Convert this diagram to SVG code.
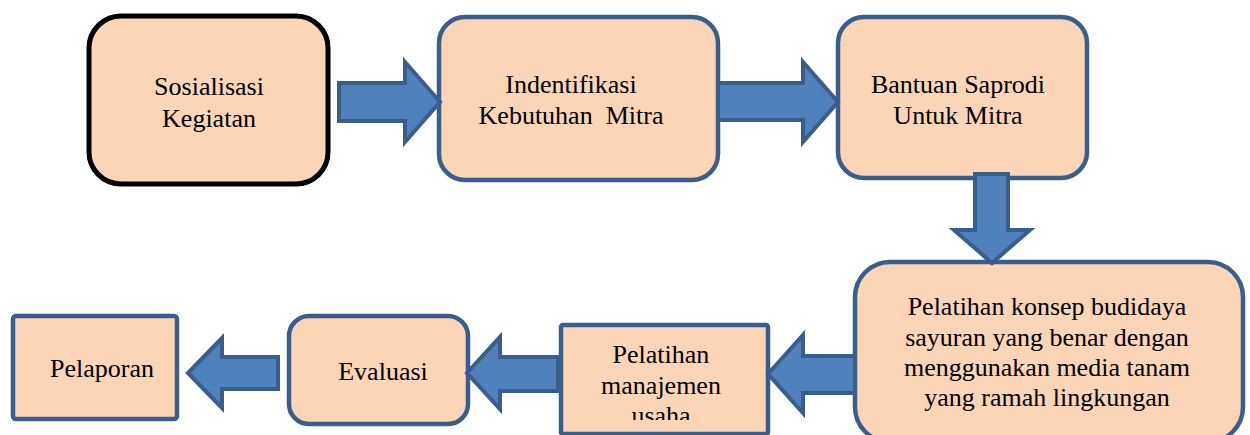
<svg xmlns="http://www.w3.org/2000/svg" width="1250" height="435" viewBox="0 0 1250 435">
  <style>
    .box { fill: #FBD5B5; stroke: #3A5E8C; stroke-width: 4.5; }
    .box1 { fill: #FBD5B5; stroke: #000000; stroke-width: 5; }
    .arrow { fill: #4F81BD; stroke: #3A5E8C; stroke-width: 4; stroke-linejoin: miter; }
    .lbl { font-size: 26px; fill: #000000; text-anchor: middle; }
  </style>
  <defs>
    <clipPath id="clip5">
      <rect x="563" y="327" width="203" height="93"/>
    </clipPath>
  </defs>
  <rect width="1250" height="435" fill="#FFFFFF"/>

  <g font-family="'Liberation Serif', 'DejaVu Serif', serif">
  <g id="node-sosialisasi">
    <rect class="box1" x="89" y="16" width="239" height="168" rx="32" ry="32"/>
    <text class="lbl" x="209" y="95">Sosialisasi</text>
    <text class="lbl" x="209" y="127">Kegiatan</text>
  </g>

  <g id="node-indentifikasi">
    <rect class="box" x="439" y="17" width="279" height="163" rx="26" ry="26"/>
    <text class="lbl" x="571" y="93">Indentifikasi</text>
    <text class="lbl" x="571" y="124" xml:space="preserve">Kebutuhan  Mitra</text>
  </g>

  <g id="node-bantuan">
    <rect class="box" x="838" y="17" width="249" height="161" rx="26" ry="26"/>
    <text class="lbl" x="958" y="93">Bantuan Saprodi</text>
    <text class="lbl" x="958" y="124">Untuk Mitra</text>
  </g>

  <g id="node-pelatihan-budidaya">
    <rect class="box" x="855" y="262" width="388" height="180" rx="35" ry="35"/>
    <text class="lbl" x="1047" y="315">Pelatihan konsep budidaya</text>
    <text class="lbl" x="1047" y="346">sayuran yang benar dengan</text>
    <text class="lbl" x="1047" y="376">menggunakan media tanam</text>
    <text class="lbl" x="1047" y="406">yang ramah lingkungan</text>
  </g>

  <g id="node-pelatihan-manajemen">
    <rect class="box" x="561" y="325" width="207" height="109" rx="2" ry="2"/>
    <g clip-path="url(#clip5)">
      <text class="lbl" x="661" y="363">Pelatihan</text>
      <text class="lbl" x="661" y="394">manajemen</text>
      <text class="lbl" x="661" y="424">usaha</text>
    </g>
  </g>

  <g id="node-evaluasi">
    <rect class="box" x="289" y="316" width="179" height="108" rx="20" ry="20"/>
    <text class="lbl" x="383" y="380">Evaluasi</text>
  </g>

  <g id="node-pelaporan">
    <rect class="box" x="13" y="316" width="164" height="103" rx="3" ry="3"/>
    <text class="lbl" x="102" y="377">Pelaporan</text>
  </g>
  </g>

  <g id="connectors">
    <polygon class="arrow" points="339,83 405,83 405,62 440,102 405,142 405,121 339,121"/>
    <polygon class="arrow" points="718,83 803,83 803,62 838,102 803,142 803,120 718,120"/>
    <polygon class="arrow" points="975,174 1008,174 1008,230 1030,230 992,263 954,230 975,230"/>
    <polygon class="arrow" points="855,356 803,356 803,335 768,374 803,413 803,393 855,393"/>
    <polygon class="arrow" points="558,357 500,357 500,337 467,373 500,409 500,391 558,391"/>
    <polygon class="arrow" points="278,357 222,357 222,338 188,373 222,408 222,389 278,389"/>
  </g>
</svg>
